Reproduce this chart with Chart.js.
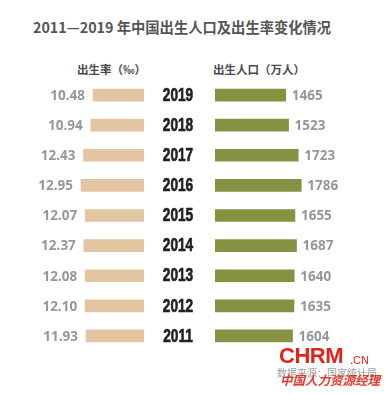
<!DOCTYPE html>
<html>
<head>
<meta charset="utf-8">
<script src="https://cdn.jsdelivr.net/npm/chart.js@4.4.1/dist/chart.umd.min.js"></script>
<style>
  html, body { margin: 0; padding: 0; background: #fff; }
  #wrap { position: relative; width: 386px; height: 394px; overflow: hidden; background: #fff;
          font-family: "Noto Sans CJK SC", "Noto Sans", sans-serif; }
  .abs { position: absolute; white-space: nowrap; }
  #title { left: 33px; top: 17px; font-size: 14.3px; font-weight: 700; color: #555555; line-height: 20px; }
  .hdr { top: 60px; font-size: 11.5px; font-weight: 600; color: #4a4a4a; line-height: 18px; }
  canvas { position: absolute; }
</style>
</head>
<body>
<div id="wrap">
  <div id="title" class="abs">2011—2019 年中国出生人口及出生率变化情况</div>
  <div class="abs hdr" style="left:77px;">出生率（‰）</div>
  <div class="abs hdr" style="left:213px;">出生人口（万人）</div>
  <canvas id="left" width="144" height="271" style="left:0;top:80px;width:144px;height:271px;"></canvas>
  <canvas id="right" width="236" height="271" style="left:150px;top:80px;width:236px;height:271px;"></canvas>
  <div class="abs" style="left:279px;top:343px;font-family:'Liberation Sans',Arial,sans-serif;font-weight:700;font-size:22px;color:#e2231a;letter-spacing:-0.5px;">CHRM</div>
  <div class="abs" style="left:350px;top:354px;font-family:'Liberation Sans',Arial,sans-serif;font-size:11px;color:#e2231a;">.CN</div>
  <div class="abs" style="left:277px;top:365px;font-size:10px;color:#9a9a9a;">数据来源：国家统计局</div>
  <div class="abs" style="left:280px;top:370px;font-size:12.5px;font-weight:700;color:#e2231a;opacity:0.9;font-style:italic;">中国人力资源经理</div>
</div>
<script>
const years = ['2019','2018','2017','2016','2015','2014','2013','2012','2011'];
const birthRate = [10.48, 10.94, 12.43, 12.95, 12.07, 12.37, 12.08, 12.10, 11.93];
const rateLabels = ['10.48','10.94','12.43','12.95','12.07','12.37','12.08','12.10','11.93'];
const births = [1465, 1523, 1723, 1786, 1655, 1687, 1640, 1635, 1604];

Chart.defaults.animation = false;
Chart.defaults.devicePixelRatio = 1;

const valueFont = '700 13.5px "Open Sans", "Noto Sans", sans-serif';
const valueColor = '#979797';

function labelPlugin(side, texts) {
  return {
    id: 'valLabels_' + side,
    afterDatasetsDraw(chart) {
      const ctx = chart.ctx;
      const meta = chart.getDatasetMeta(0);
      ctx.save();
      ctx.font = valueFont;
      ctx.fillStyle = valueColor;
      ctx.textBaseline = 'middle';
      meta.data.forEach((bar, i) => {
        if (side === 'left') {
          ctx.textAlign = 'right';
          ctx.fillText(texts[i], bar.x - 8, bar.y + 1);
        } else {
          ctx.textAlign = 'left';
          ctx.fillText(texts[i], bar.x + 6, bar.y + 1);
        }
      });
      ctx.restore();
    }
  };
}

// year labels drawn at the category positions of the y scale, in a condensed face
const yearPlugin = {
  id: 'yearLabels',
  afterDraw(chart) {
    const ctx = chart.ctx;
    const yScale = chart.scales.y;
    const cx = chart.chartArea.left - 37;
    ctx.save();
    ctx.fillStyle = '#222222';
    ctx.strokeStyle = '#222222';
    ctx.lineWidth = 0.7;
    ctx.font = 'bold 19px "Liberation Sans", Arial, sans-serif';
    ctx.textAlign = 'center';
    ctx.textBaseline = 'middle';
    years.forEach((label, i) => {
      const y = yScale.getPixelForTick(i);
      ctx.save();
      ctx.translate(cx, y + 0.5);
      ctx.scale(0.72, 1);
      ctx.fillText(label, 0, 0);
      ctx.strokeText(label, 0, 0);
      ctx.restore();
    });
    ctx.restore();
  }
};

new Chart(document.getElementById('left'), {
  type: 'bar',
  data: {
    labels: years,
    datasets: [{ data: birthRate, backgroundColor: '#e4c5a1', barThickness: 12, borderWidth: 0 }]
  },
  options: {
    responsive: false,
    indexAxis: 'y',
    layout: { padding: 0 },
    plugins: { legend: { display: false }, tooltip: { enabled: false } },
    scales: {
      x: { display: false, reverse: true, min: 0, max: 29.6 },
      y: { display: false }
    }
  },
  plugins: [labelPlugin('left', rateLabels)]
});

new Chart(document.getElementById('right'), {
  type: 'bar',
  data: {
    labels: years,
    datasets: [{ data: births, backgroundColor: '#869142', barThickness: 12, borderWidth: 0 }]
  },
  options: {
    responsive: false,
    indexAxis: 'y',
    layout: { padding: { left: 65 } },
    plugins: { legend: { display: false }, tooltip: { enabled: false } },
    scales: {
      x: { display: false, min: 0, max: 3540 },
      y: { display: false }
    }
  },
  plugins: [labelPlugin('right', births.map(String)), yearPlugin]
});
</script>
</body>
</html>
